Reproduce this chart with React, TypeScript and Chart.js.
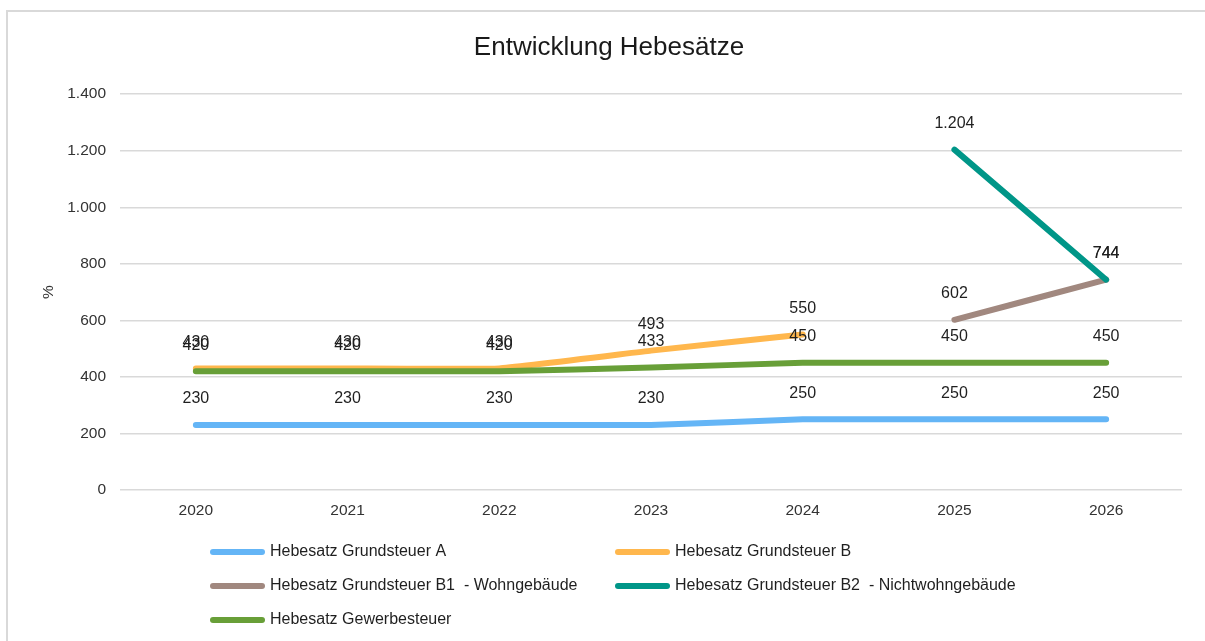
import React, { useEffect, useRef } from "react";
import { Chart, registerables } from "chart.js";

Chart.register(...registerables);

const FONT = '"Liberation Sans", Arial, Helvetica, sans-serif';

const years = ["2020", "2021", "2022", "2023", "2024", "2025", "2026"];
const grundsteuerA = [230, 230, 230, 230, 250, 250, 250];
const grundsteuerB = [430, 430, 430, 493, 550, null, null];
const grundsteuerB1 = [null, null, null, null, null, 602, 744];
const grundsteuerB2 = [null, null, null, null, null, 1204, 744];
const gewerbesteuer = [420, 420, 420, 433, 450, 450, 450];

const seriesNames = [
  "Hebesatz Grundsteuer A",
  "Hebesatz Grundsteuer B",
  "Hebesatz Grundsteuer B1  - Wohngebäude",
  "Hebesatz Grundsteuer B2  - Nichtwohngebäude",
  "Hebesatz Gewerbesteuer",
];
const seriesColors = ["#64B5F6", "#FFB74D", "#A1887F", "#009688", "#689F38"];
const seriesOrder = [4, 3, 2, 1, 0];

const yMin = 0;
const yMax = 1400;
const yStep = 200;

const chartTitle = "Entwicklung Hebesätze";
const yAxisTitle = "%";

const fmt = (v: number) =>
  String(Math.round(v)).replace(/\B(?=(\d{3})+(?!\d))/g, ".");

const valueLabelPlugin = {
  id: "valueLabels",
  afterDatasetsDraw(chart: any) {
    const { ctx } = chart;
    ctx.save();
    ctx.font = `16px ${FONT}`;
    ctx.fillStyle = "#1f1f1f";
    ctx.textAlign = "center";
    ctx.textBaseline = "middle";
    chart.data.datasets.forEach((ds: any, i: number) => {
      const meta = chart.getDatasetMeta(i);
      meta.data.forEach((pt: any, j: number) => {
        const v = ds.data[j];
        if (v === null || v === undefined) return;
        ctx.fillText(fmt(v), pt.x, pt.y - 26);
      });
    });
    ctx.restore();
  },
};

const gridLegendPlugin = {
  id: "gridLegend",
  afterDraw(chart: any) {
    const { ctx, chartArea } = chart;
    ctx.save();
    ctx.font = `16px ${FONT}`;
    ctx.textAlign = "left";
    ctx.textBaseline = "middle";
    chart.data.datasets.forEach((ds: any, i: number) => {
      const col = i % 2;
      const row = Math.floor(i / 2);
      const x0 = chartArea.left + 90 + col * 405;
      const y = chartArea.bottom + 62 + row * 34;
      ctx.strokeStyle = ds.borderColor;
      ctx.lineWidth = 6;
      ctx.lineCap = "round";
      ctx.beginPath();
      ctx.moveTo(x0 + 3, y);
      ctx.lineTo(x0 + 52, y);
      ctx.stroke();
      ctx.fillStyle = "#1f1f1f";
      ctx.fillText(ds.label, x0 + 60, y);
    });
    ctx.restore();
  },
};

export default function App() {
  const canvasRef = useRef<HTMLCanvasElement | null>(null);

  useEffect(() => {
    if (!canvasRef.current) return;
    const seriesData = [grundsteuerA, grundsteuerB, grundsteuerB1, grundsteuerB2, gewerbesteuer];
    const chart = new Chart(canvasRef.current, {
      type: "line",
      data: {
        labels: years,
        datasets: seriesData.map((d, i) => ({
          label: seriesNames[i],
          data: d,
          borderColor: seriesColors[i],
          backgroundColor: seriesColors[i],
          borderWidth: 6,
          borderCapStyle: "round",
          borderJoinStyle: "round",
          pointRadius: 0,
          pointHoverRadius: 0,
          tension: 0.08,
          spanGaps: false,
          order: seriesOrder[i],
          fill: false,
        })),
      },
      options: {
        responsive: false,
        animation: false,
        devicePixelRatio: 1,
        layout: { padding: { top: 0, left: 28, right: 23, bottom: 0 } },
        plugins: {
          legend: { display: false },
          tooltip: { enabled: false },
          title: {
            display: true,
            text: chartTitle,
            color: "#1a1a1a",
            font: { family: FONT, size: 26, weight: "normal" },
            padding: { top: 20, bottom: 31 },
          },
        },
        scales: {
          x: {
            offset: true,
            grid: { display: false, drawTicks: false },
            border: { display: false },
            ticks: {
              color: "#333333",
              font: { family: FONT, size: 15.5 },
              padding: 11,
              maxRotation: 0,
            },
            afterFit: (scale: any) => {
              scale.height = 151;
            },
          },
          y: {
            min: yMin,
            max: yMax,
            grid: { color: "#d9d9d9", lineWidth: 1.5, drawTicks: false },
            border: { display: false },
            ticks: {
              stepSize: yStep,
              color: "#333333",
              font: { family: FONT, size: 15.5 },
              padding: 14,
              callback: (v: any) => fmt(Number(v)),
            },
            title: {
              display: true,
              text: yAxisTitle,
              color: "#333333",
              font: { family: FONT, size: 15.5 },
              padding: { top: 3, bottom: 0 },
            },
            afterFit: (scale: any) => {
              scale.width = 84;
            },
          },
        },
      },
      plugins: [valueLabelPlugin, gridLegendPlugin],
    });
    return () => chart.destroy();
  }, []);

  return (
    <div
      style={{
        position: "absolute",
        left: 6,
        top: 10,
        width: 1197,
        height: 629,
        borderTop: "2px solid #d9d9d9",
        borderLeft: "2px solid #d9d9d9",
        background: "#ffffff",
      }}
    >
      <canvas ref={canvasRef} width={1197} height={629} style={{ display: "block" }} />
    </div>
  );
}
